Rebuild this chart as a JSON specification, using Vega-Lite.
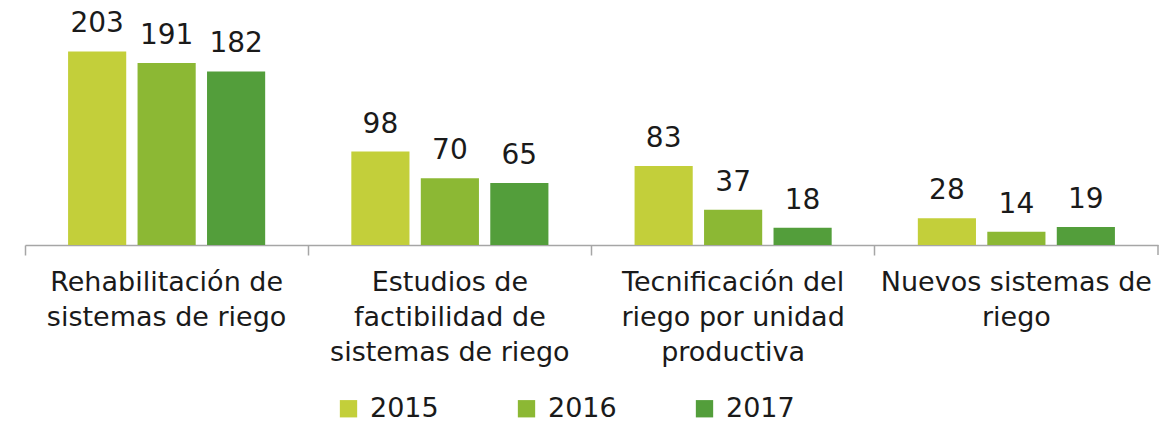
{
  "$schema": "https://vega.github.io/schema/vega-lite/v6.json",
  "width": 1133,
  "height": 245,
  "autosize": {"type": "none"},
  "padding": {"left": 25, "top": 0, "right": 8, "bottom": 180},
  "config": {"view": {"stroke": null}, "font": "DejaVu Sans"},
  "data": {
    "values": [
      {"cat": "Rehabilitación de|sistemas de riego", "year": "2015", "value": 203},
      {"cat": "Rehabilitación de|sistemas de riego", "year": "2016", "value": 191},
      {"cat": "Rehabilitación de|sistemas de riego", "year": "2017", "value": 182},
      {"cat": "Estudios de|factibilidad de|sistemas de riego", "year": "2015", "value": 98},
      {"cat": "Estudios de|factibilidad de|sistemas de riego", "year": "2016", "value": 70},
      {"cat": "Estudios de|factibilidad de|sistemas de riego", "year": "2017", "value": 65},
      {"cat": "Tecnificación del|riego por unidad|productiva", "year": "2015", "value": 83},
      {"cat": "Tecnificación del|riego por unidad|productiva", "year": "2016", "value": 37},
      {"cat": "Tecnificación del|riego por unidad|productiva", "year": "2017", "value": 18},
      {"cat": "Nuevos sistemas de|riego", "year": "2015", "value": 28},
      {"cat": "Nuevos sistemas de|riego", "year": "2016", "value": 14},
      {"cat": "Nuevos sistemas de|riego", "year": "2017", "value": 19}
    ]
  },
  "encoding": {
    "x": {
      "field": "cat",
      "type": "nominal",
      "sort": null,
      "scale": {"paddingInner": 0, "paddingOuter": 0},
      "axis": {
        "title": null,
        "labelAngle": 0,
        "labelExpr": "split(datum.label, '|')",
        "labelFontSize": 27,
        "labelColor": "#1a1a1a",
        "labelLineHeight": 35,
        "labelPadding": 14,
        "labelBaseline": "top",
        "domainColor": "#a6a6a6",
        "domainWidth": 1.5,
        "tickColor": "#a6a6a6",
        "tickWidth": 1.5,
        "tickSize": 10,
        "bandPosition": 0,
        "labelLimit": 0
      }
    }
  },
  "layer": [
    {
      "mark": {"type": "bar"},
      "encoding": {
        "xOffset": {
          "field": "year",
          "type": "nominal",
          "scale": {"paddingInner": 0.163, "paddingOuter": 0.62}
        },
        "y": {
          "field": "value",
          "type": "quantitative",
          "scale": {"domain": [0, 257], "nice": false, "zero": true},
          "axis": null
        },
        "color": {
          "field": "year",
          "type": "nominal",
          "scale": {"domain": ["2015", "2016", "2017"], "range": ["#C3CF3A", "#8CB834", "#539E3B"]},
          "legend": {
            "title": null,
            "orient": "none",
            "direction": "horizontal",
            "legendX": 310,
            "legendY": 395,
            "symbolType": "square",
            "symbolSize": 300,
            "symbolStrokeWidth": 0,
            "labelFontSize": 27,
            "labelColor": "#1a1a1a",
            "labelOffset": 8,
            "columnPadding": 74
          }
        }
      }
    },
    {
      "mark": {"type": "text", "baseline": "alphabetic", "dy": -19, "fontSize": 28, "color": "#1a1a1a"},
      "encoding": {
        "xOffset": {"field": "year", "type": "nominal"},
        "y": {"field": "value", "type": "quantitative"},
        "text": {"field": "value", "type": "quantitative"}
      }
    },
    {
      "data": {"values": [{"cat": "Nuevos sistemas de|riego"}]},
      "mark": {"type": "rule", "color": "#a6a6a6", "strokeWidth": 1.5},
      "encoding": {
        "x": {"field": "cat", "type": "nominal", "bandPosition": 1},
        "y": {"datum": 0, "type": "quantitative"},
        "y2": {"datum": -10.5}
      }
    }
  ]
}
